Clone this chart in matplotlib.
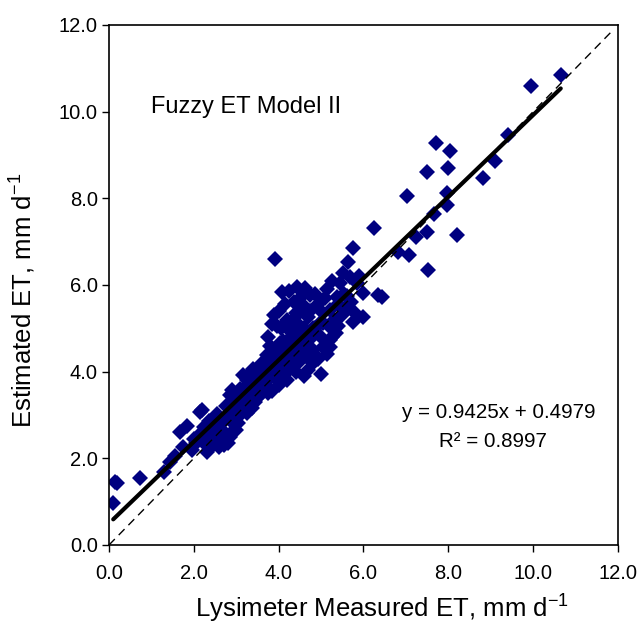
import matplotlib
matplotlib.use("Agg")
import matplotlib.pyplot as plt
import numpy as np

plt.rcParams['font.family'] = ['Liberation Sans', 'DejaVu Sans']
plt.rcParams['mathtext.fontset'] = 'custom'
plt.rcParams['mathtext.rm'] = 'Liberation Sans'
plt.rcParams['mathtext.it'] = 'Liberation Sans'

measured_et = [
    0.10, 0.14, 0.20, 0.73, 1.30, 1.44, 1.55, 1.67, 1.75, 1.85, 1.95, 2.00, 2.15, 2.05,
    2.20, 2.30, 2.40, 2.50, 2.62, 2.70, 2.55, 2.65, 2.80, 2.85, 2.90, 2.75, 3.00, 2.95,
    2.35, 2.45, 2.90, 2.60, 2.80, 3.05, 2.19, 2.25, 3.04, 2.85, 2.70, 3.10, 3.16, 3.30,
    3.37, 3.45, 3.20, 3.25, 3.35, 3.50, 3.55, 3.40, 3.60, 3.15, 3.30,
    3.73, 3.65, 3.70, 3.80, 3.85, 3.90, 3.95, 4.03, 4.10, 4.00, 4.15, 4.20, 4.27, 4.30,
    4.05, 3.92, 3.90, 3.85, 4.00, 4.08, 4.15, 4.20, 4.25, 4.35, 4.43, 4.40, 4.45, 4.50,
    4.35, 4.10, 3.75, 3.95, 4.30, 4.45, 4.50, 4.25, 4.38, 4.05, 3.80, 4.20, 4.40, 4.48,
    4.62, 4.74, 4.90, 4.50, 4.55, 4.81, 5.05, 5.21, 5.38, 5.52, 5.45, 5.68, 5.64, 5.75,
    6.00, 6.34, 6.00, 5.75, 5.21, 5.05, 4.81, 5.21, 5.61, 5.85, 4.90, 4.58, 4.70, 4.93,
    5.21, 4.60, 4.70, 4.85, 4.95, 5.10, 5.30, 5.35, 5.50, 5.00, 4.65, 4.75, 5.15, 5.40,
    5.55, 4.55, 4.80, 5.00, 4.60, 5.25, 5.70, 5.90,
    2.10, 2.25, 2.35, 2.50, 2.55, 2.70, 2.75, 2.95, 3.05, 3.10, 3.20, 3.25, 3.40, 3.45,
    3.50, 3.55, 3.60, 3.65, 3.70, 3.75, 3.85, 3.90, 4.00, 4.10, 4.25, 4.35, 4.45, 4.55,
    4.65, 4.75, 4.85, 5.05, 5.15, 5.25, 5.40, 5.60, 5.80, 3.35, 3.00, 2.65,
    6.25, 6.44, 7.03, 6.82, 7.08, 7.24, 7.50, 7.52, 7.67, 7.97, 7.97, 8.20, 7.50, 8.00,
    7.71, 8.04, 8.82, 9.10, 9.40, 9.95, 10.65,
]
estimated_et = [
    0.97, 1.45, 1.43, 1.55, 1.69, 1.92, 2.05, 2.61, 2.26, 2.75, 2.20, 2.45, 3.07, 2.35,
    2.60, 2.15, 2.75, 2.70, 2.36, 2.40, 3.02, 2.65, 2.95, 3.45, 2.60, 3.20, 3.30, 2.80,
    2.85, 2.30, 3.58, 2.25, 2.35, 2.95, 3.12, 2.72, 2.82, 2.50, 2.30, 3.60, 3.93, 3.95,
    3.16, 3.30, 3.40, 3.05, 3.70, 3.85, 3.45, 4.05, 3.60, 3.20, 3.50,
    4.39, 4.10, 3.75, 4.20, 3.55, 3.90, 4.45, 4.66, 4.25, 3.70, 3.95, 4.50, 4.11, 4.80,
    5.00, 6.60, 5.30, 5.10, 5.40, 5.84, 5.55, 5.20, 4.95, 5.60, 5.96, 5.35, 4.60, 4.30,
    4.40, 4.70, 4.80, 5.05, 5.15, 5.10, 5.70, 5.85, 5.05, 4.35, 4.60, 3.80, 4.00, 4.85,
    5.94, 5.77, 5.54, 5.38, 4.80, 5.01, 5.13, 5.43, 5.73, 6.28, 6.05, 6.19, 6.54, 6.86,
    5.82, 5.77, 5.27, 5.15, 4.73, 4.57, 4.50, 5.03, 5.50, 6.05, 4.34, 4.43, 4.04, 4.30,
    4.57, 5.00, 5.25, 5.80, 5.10, 5.70, 5.20, 4.90, 5.30, 4.80, 4.60, 4.75, 5.90, 5.55,
    5.80, 5.55, 4.20, 3.95, 3.90, 6.10, 5.60, 6.20,
    2.50, 2.35, 2.55, 2.45, 2.80, 2.85, 2.55, 3.10, 3.50, 3.15, 3.65, 3.80, 3.55, 3.60,
    3.40, 3.95, 4.20, 3.70, 4.00, 3.50, 4.35, 4.05, 4.15, 3.85, 4.30, 4.65, 4.20, 4.55,
    4.35, 5.40, 5.00, 5.35, 4.40, 4.80, 5.05, 5.75, 5.35, 3.25, 2.65, 2.50,
    7.32, 5.73, 8.06, 6.77, 6.70, 7.11, 7.23, 6.35, 7.64, 7.85, 8.13, 7.16, 8.60, 8.70,
    9.28, 9.10, 8.48, 8.87, 9.47, 10.60, 10.85,
]

slope = 0.9425
intercept = 0.4979
r_squared = 0.8997
ticks = [0, 2, 4, 6, 8, 10, 12]

fig = plt.figure(figsize=(6.43, 6.31), dpi=100)
ax = fig.add_axes([0.1695, 0.1363, 0.7916, 0.8241])

ax.plot(measured_et, estimated_et, linestyle='none', marker='D', markersize=8.6,
        color='#000080', markeredgewidth=0, zorder=2)

xs = np.array([min(measured_et), max(measured_et)])
ax.plot(xs, slope * xs + intercept, color='black', linewidth=3, zorder=3,
        solid_capstyle='round')
ax.plot([0, 11.9], [0, 11.9], color='black', linewidth=1, linestyle=(0, (6, 4)), zorder=3)

ax.set_xlim(0, 12)
ax.set_ylim(0, 12)
ax.set_xticks(ticks)
ax.set_yticks(ticks)
ax.set_xticklabels([f"{t:.1f}" for t in ticks], fontsize=14.5)
ax.set_yticklabels([f"{t:.1f}" for t in ticks], fontsize=14.5)
ax.tick_params(direction='out', length=5, width=1)
ax.tick_params(axis='x', pad=9)
ax.tick_params(axis='y', pad=3)
for s in ax.spines.values():
    s.set_linewidth(1.2)

ax.set_xlabel(r'Lysimeter Measured ET, mm d$^{\mathregular{-1}}$', fontsize=18.5)
ax.set_ylabel(r'Estimated ET, mm d$^{\mathregular{-1}}$', fontsize=18.5)
ax.xaxis.set_label_coords(0.536, -0.092)
ax.yaxis.set_label_coords(-0.139, 0.471)

ax.text(1.0, 10.1, 'Fuzzy ET Model II', fontsize=17, ha='left', va='center')
ax.text(9.2, 3.05, f'y = {slope}x + {intercept}', fontsize=14.8, ha='center', va='center')
ax.text(9.05, 2.38, f'R\u00b2 = {r_squared}', fontsize=14.8, ha='center', va='center')

fig.savefig('out.png', dpi=100)
